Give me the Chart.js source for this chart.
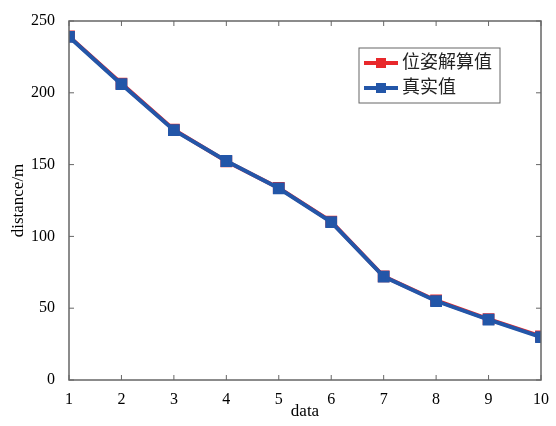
<!DOCTYPE html>
<html>
<head>
<meta charset="utf-8">
<script src="https://cdn.jsdelivr.net/npm/chart.js@4"></script>
<style>
  body { margin: 0; background: #fff; }
  #wrap { width: 556px; height: 426px; }
</style>
</head>
<body>
<div id="wrap"><canvas id="myChart" width="556" height="426"></canvas></div>
<script>
const categorias = [1, 2, 3, 4, 5, 6, 7, 8, 9, 10];
const valoresPose = [239.3, 206.4, 174.3, 152.3, 133.8, 110.3, 72.2, 55.4, 42.4, 30.4];
const valoresReal = [239, 206, 174, 152.5, 133.5, 110, 72, 55, 42, 29.8];
const yTicks = [0, 50, 100, 150, 200, 250];
const nombres = ["位姿解算值", "真实值"];

const fuente = "'Liberation Serif', 'Noto Sans CJK SC', serif";
const gris = "#666666";

// caja estilo matlab con marcas hacia dentro y leyenda dentro del area
const cajaPlugin = {
  id: "caja",
  afterDraw(chart) {
    const ctx = chart.ctx;
    const a = chart.chartArea;
    const x = chart.scales.x;
    const y = chart.scales.y;
    ctx.save();
    ctx.strokeStyle = gris;
    ctx.lineWidth = 1.5;
    ctx.strokeRect(a.left, a.top, a.right - a.left, a.bottom - a.top);
    ctx.lineWidth = 1;
    ctx.beginPath();
    for (const c of categorias) {
      const px = x.getPixelForValue(c);
      ctx.moveTo(px, a.bottom); ctx.lineTo(px, a.bottom - 5);
      ctx.moveTo(px, a.top); ctx.lineTo(px, a.top + 5);
    }
    for (const t of yTicks) {
      const py = y.getPixelForValue(t);
      ctx.moveTo(a.left, py); ctx.lineTo(a.left + 5, py);
      ctx.moveTo(a.right, py); ctx.lineTo(a.right - 5, py);
    }
    ctx.stroke();

    // leyenda
    const lx = 359, ly = 48, lw = 141, lh = 55;
    ctx.fillStyle = "#fff";
    ctx.fillRect(lx, ly, lw, lh);
    ctx.strokeStyle = gris;
    ctx.lineWidth = 1;
    ctx.strokeRect(lx, ly, lw, lh);
    chart.data.datasets.forEach((ds, i) => {
      const cy = ly + 15 + i * 25;
      ctx.strokeStyle = ds.borderColor;
      ctx.lineWidth = 4;
      ctx.beginPath();
      ctx.moveTo(lx + 5, cy); ctx.lineTo(lx + 39, cy);
      ctx.stroke();
      ctx.fillStyle = ds.borderColor;
      ctx.fillRect(lx + 17, cy - 5, 10, 10);
      ctx.fillStyle = "#222";
      ctx.font = "18px " + fuente;
      ctx.textBaseline = "middle";
      ctx.fillText(ds.label, lx + 43, cy);
    });
    ctx.restore();
  }
};

const config = {
  type: "line",
  data: {
    datasets: [
      {
        label: nombres[0],
        data: categorias.map((c, i) => ({ x: c, y: valoresPose[i] })),
        borderColor: "rgb(232,40,43)",
        backgroundColor: "rgb(232,40,43)",
        borderWidth: 4,
        pointStyle: "rect",
        pointRadius: 5.5,
        order: 1,
      },
      {
        label: nombres[1],
        data: categorias.map((c, i) => ({ x: c, y: valoresReal[i] })),
        borderColor: "rgb(35,86,168)",
        backgroundColor: "rgb(35,86,168)",
        borderWidth: 4,
        pointStyle: "rect",
        pointRadius: 5.5,
        order: 0,
      },
    ],
  },
  options: {
    responsive: false,
    animation: false,
    layout: { padding: { top: 21, right: 15, left: 8, bottom: 4 } },
    plugins: { legend: { display: false }, tooltip: { enabled: false } },
    scales: {
      x: {
        type: "linear",
        min: 1,
        max: 10,
        afterBuildTicks: (s) => { s.ticks = categorias.map((v) => ({ value: v })); },
        afterFit: (s) => { s.height = 42; },
        grid: { display: false },
        border: { display: false },
        ticks: { color: "#000", font: { family: fuente, size: 16 }, padding: 2, maxRotation: 0 },
        title: { display: true, text: "data", color: "#000", font: { family: fuente, size: 17 }, padding: 0 },
      },
      y: {
        min: 0,
        max: 250,
        afterBuildTicks: (s) => { s.ticks = yTicks.map((v) => ({ value: v })); },
        afterFit: (s) => { s.width = 61; },
        grid: { display: false },
        border: { display: false },
        ticks: { color: "#000", font: { family: fuente, size: 16 }, padding: 6 },
        title: { display: true, text: "distance/m", color: "#000", font: { family: fuente, size: 17 }, padding: 0 },
      },
    },
  },
  plugins: [cajaPlugin],
};

const myChart = document.getElementById("myChart");
myChart.chart = new Chart(myChart, config);
</script>
</body>
</html>
